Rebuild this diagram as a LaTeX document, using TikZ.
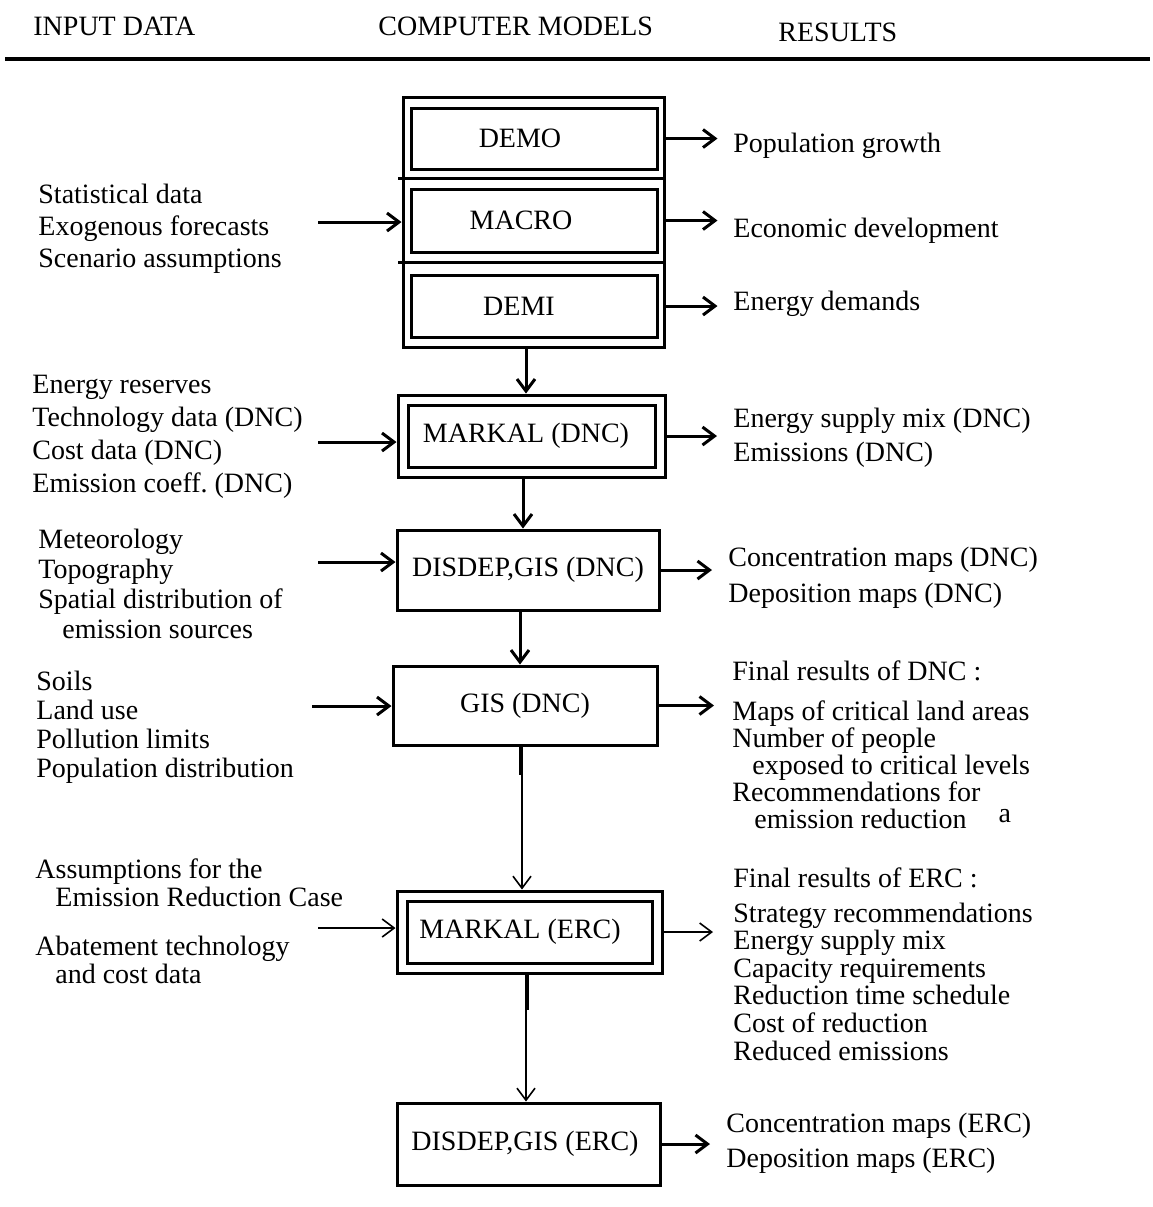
\documentclass[tikz,border=0pt]{standalone}
\usepackage{fontspec}
\setmainfont{Liberation Serif}
\usetikzlibrary{arrows.meta,calc}

\begin{document}
\begin{tikzpicture}[x=0.5pt,y=-0.5pt,
		txt/.style={inner sep=0pt,anchor=base west,align=left,font=\fontsize{14}{#1}\selectfont},
		txt/.default=16pt,
		model/.style={draw,line width=1.5pt,inner sep=0pt,font=\fontsize{14}{16}\selectfont},
		dmodel/.style={model,double,double distance=3.5pt,outer sep=3.25pt},
		flow/.style={line width=1.5pt,-{Straight Barb[length=6pt,width=9pt]}},
		thinflow/.style={line width=0.8pt,-{Straight Barb[length=6pt,width=9pt]}}]
		%%%%% START %%%%%
		\useasboundingbox (0,0) rectangle (1153,1207);
		
		\node[txt] (hin) at (33,35) {INPUT DATA};
		\node[txt] (hmod) at (378,35) {COMPUTER MODELS};
		\node[txt] (hres) at (778,41) {RESULTS};
		\draw[line width=2pt] (5,59) -- (1150,59);
		
		\node[model, minimum width=130.5pt, minimum height=125pt] (stack) at (533.5,222) {};
		\node[model, minimum width=123pt, minimum height=30.5pt] (demo) at (534,138.5) {DEMO\hspace*{14pt}};
		\node[model, minimum width=123pt, minimum height=31.5pt] (macro) at (534,220.5) {MACRO\hspace*{13pt}};
		\node[model, minimum width=123pt, minimum height=31pt] (demi) at (534,306) {DEMI\hspace*{15pt}};
		\coordinate (cut1) at (398,178);
		\coordinate (cut2) at (398,262);
		\draw[line width=1.5pt] (cut1) -- (cut1 -| stack.east);
		\draw[line width=1.5pt] (cut2) -- (cut2 -| stack.east);
		
		\node[dmodel, minimum width=128.5pt, minimum height=36pt] (markal) at (531.5,436) {MARKAL (DNC)\hspace*{5.5pt}};
		\node[model, minimum width=131pt, minimum height=40pt] (disdep) at (528,570) {DISDEP,GIS (DNC)};
		\node[model, minimum width=132pt, minimum height=39.5pt] (gis) at (525,705.5) {GIS (DNC)};
		\node[dmodel, minimum width=127.5pt, minimum height=36pt] (markalerc) at (529.5,932) {MARKAL (ERC)\hspace*{9.5pt}};
		\node[model, minimum width=131.5pt, minimum height=41pt] (disdeperc) at (528.5,1144) {DISDEP,GIS (ERC)\hspace*{3.5pt}};
		
		\draw[flow] ([xshift=-3.75pt]stack.south) -- ([xshift=-3.75pt]stack.south |- markal.north);
		\draw[flow] ([xshift=-4.25pt]markal.south) -- ([xshift=-4.25pt]markal.south |- disdep.north);
		\draw[flow] ([xshift=-4pt]disdep.south) -- ([xshift=-4pt]disdep.south |- gis.north);
		\draw[line width=1.5pt] ([xshift=-2.5pt]gis.south) -- ++(0,28);
		\draw[thinflow] ([xshift=-1.5pt]gis.south) -- ([xshift=-1.5pt]gis.south |- markalerc.north);
		\draw[line width=1.5pt] ([xshift=-1.25pt]markalerc.south) -- ++(0,35);
		\draw[thinflow] ([xshift=-1.75pt]markalerc.south) -- ([xshift=-1.75pt]markalerc.south |- disdeperc.north);
		
		% multi-line nodes sit on the baseline of their last line
		\node[txt=16pt] (inmacro) at (38,267) {Statistical data\\Exogenous forecasts\\Scenario assumptions};
		\node[txt=16.5pt] (inmarkal) at (32,492) {Energy reserves\\Technology data (DNC)\\Cost data (DNC)\\Emission coeff.\ (DNC)};
		\node[txt=15pt] (indisdep) at (38,638) {Meteorology\\Topography\\Spatial distribution of\\\hspace*{12pt}emission sources};
		\node[txt=14.5pt] (ingis) at (36,777) {Soils\\Land use\\Pollution limits\\Population distribution};
		\node[txt=14pt] (inerc) at (35,983) {Assumptions for the\\\hspace*{10pt}Emission Reduction Case\\[10.5pt]Abatement technology\\\hspace*{10pt}and cost data};
		
		\coordinate (src1) at (318,222);
		\coordinate (src2) at (318,442);
		\coordinate (src3) at (318,562);
		\coordinate (src4) at (312,706);
		\coordinate (src5) at (318,928);
		\draw[flow] (src1) -- (src1 -| stack.west);
		\draw[flow] (src2) -- (src2 -| markal.west);
		\draw[flow] (src3) -- (src3 -| disdep.west);
		\draw[flow] (src4) -- (src4 -| gis.west);
		\draw[thinflow] (src5) -- (src5 -| markalerc.west);
		
		\node[txt] (outdemo) at (733,152) {Population growth};
		\node[txt] (outmacro) at (733,237) {Economic development};
		\node[txt] (outdemi) at (733,310) {Energy demands};
		\node[txt=17pt] (outmarkal) at (733,461) {Energy supply mix (DNC)\\Emissions (DNC)};
		\node[txt=18pt] (outdisdep) at (728,602) {Concentration maps (DNC)\\Deposition maps (DNC)};
		\node[txt=13.5pt] (outgis) at (732,828) {Final results of DNC :\\[6.5pt]Maps of critical land areas\\Number of people\\\hspace*{10pt}exposed to critical levels\\Recommendations for\\\hspace*{11pt}emission reduction\hspace*{16pt}\raisebox{3pt}{a}};
		\node[txt=13.8pt] (outerc) at (733,1060) {Final results of ERC :\\[3.7pt]Strategy recommendations\\Energy supply mix\\Capacity requirements\\Reduction time schedule\\Cost of reduction\\Reduced emissions};
		\node[txt=17.5pt] (outdisdeperc) at (726,1167) {Concentration maps (ERC)\\Deposition maps (ERC)};
		
		\draw[flow] (stack.east |- demo) -- ++(52,0);
		\draw[flow] (stack.east |- macro) -- ++(52,0);
		\draw[flow] (stack.east |- demi) -- ++(52,0);
		\draw[flow] (markal.east) -- ++(50.5,0);
		\draw[flow] (disdep.east) -- ++(51.5,0);
		\draw[flow] (gis.east) -- ++(55.5,0);
		\draw[thinflow] (markalerc.east) -- ++(49.5,0);
		\draw[flow] (disdeperc.east) -- ++(48.5,0);
		%%%%% END %%%%%
	\end{tikzpicture}
\end{document}
